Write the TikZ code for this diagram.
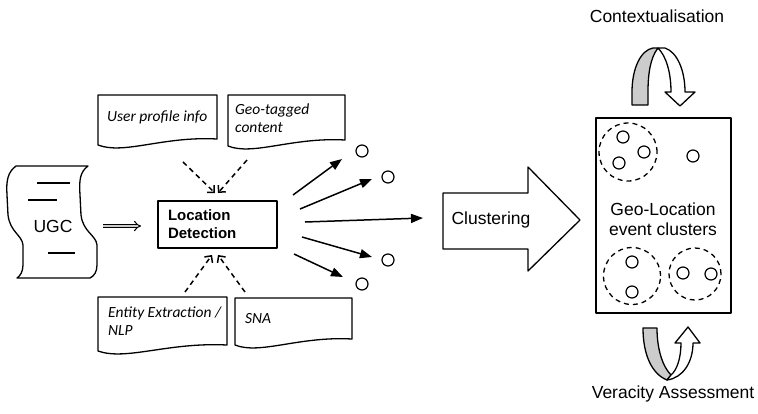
\documentclass[tikz,border=0pt]{standalone}
\usepackage{fontspec}
\setmainfont{Liberation Sans}
\newfontfamily\carl{Carlito}
\usetikzlibrary{arrows.meta}
\begin{document}
\begin{tikzpicture}[x=1pt,y=-1pt, line join=round,
  ln/.style={line width=1.3pt},
  dot/.style={circle, draw, line width=1.2pt, minimum size=12pt, inner sep=0pt},
  clus/.style={circle, draw, dash pattern=on 5pt off 4pt, line width=1.3pt, inner sep=0pt},
  dasharr/.style={line width=1.5pt, dash pattern=on 5pt off 4pt, -{Straight Barb[length=5pt,width=10pt,line width=1.5pt]}},
  solarr/.style={line width=1.5pt, -{Triangle[length=12pt,width=9pt]}},
  doctext/.style={font=\carl\itshape\fontsize{15.5}{18}\selectfont, anchor=west, align=left, inner sep=0pt},
  sans/.style={font=\fontsize{17.5}{21}\selectfont, inner sep=0pt, align=center},
  docbox/.style={ln, fill=white}
]
\useasboundingbox (0,0) rectangle (758,413);

% UGC scroll
\draw[ln, fill=white] (16,166) -- (88,166) .. controls (80,172) and (79,180) .. (80,195) -- (81,215) .. controls (83,232) and (96,235) .. (97,245) -- (97,265) .. controls (97,272) and (94,276) .. (90,278) -- (17,278) .. controls (20,276) and (23,272) .. (23,265) -- (23,245) .. controls (22,235) and (10,232) .. (8,215) -- (7,195) .. controls (6,180) and (8,172) .. (16,166) -- cycle;
\draw[ln] (37,183) -- (70,183);
\draw[ln] (28,200) -- (57,200);
\draw[ln] (48,253) -- (75,253);
\node[sans] (ugc) at (53,226) {UGC};
\coordinate (ugcout) at (103,226);
\coordinate (ldin) at (141,226);
\draw[double=gray!40, double distance=2.5pt, line width=1pt, -{Implies}] (ugcout) -- (ldin);

% Location detection
\node[draw, ln, minimum width=119pt, minimum height=47pt, align=left, text width=99pt, inner xsep=10pt, inner ysep=0pt, font=\bfseries\fontsize{15}{18}\selectfont] (ld) at (217.5,224.5) {Location\\Detection};

% documents
\draw[docbox] (98,95) -- (217,95) -- (217,139) .. controls (163,136) and (124,155) .. (98,145) -- cycle;
\node[doctext] (upi) at (107,117) {User profile info};
\draw[docbox] (228,95) -- (345,95) -- (345,140) .. controls (292,137) and (253,156) .. (228,146) -- cycle;
\node[doctext] (geot) at (235,118) {Geo-tagged\\content};
\draw[docbox] (98,297) -- (227,297) -- (227,345) .. controls (168,342) and (126,361) .. (98,351) -- cycle;
\node[doctext] (ent) at (108,321) {Entity Extraction /\\NLP};
\draw[docbox] (235,298) -- (352,298) -- (352,339) .. controls (299,336) and (260,355) .. (235,345) -- cycle;
\node[doctext] (sna) at (245,319) {SNA};

% dashed arrows
\coordinate (d1s) at (183,162); \coordinate (d1e) at (215,193);
\coordinate (d2s) at (247,160); \coordinate (d2e) at (218,193);
\coordinate (d3s) at (185,292); \coordinate (d3e) at (212,255);
\coordinate (d4s) at (245,292); \coordinate (d4e) at (218,255);
\draw[dasharr] (d1s) -- (d1e);
\draw[dasharr] (d2s) -- (d2e);
\draw[dasharr] (d3s) -- (d3e);
\draw[dasharr] (d4s) -- (d4e);

% small circles
\node[dot] (c1) at (362,151) {};
\node[dot] (c2) at (388,177) {};
\node[dot] (c4) at (388,260) {};
\node[dot] (c5) at (362,284) {};

\coordinate (a1s) at (293,195); \coordinate (a1e) at (342,159);
\coordinate (a2s) at (300,209); \coordinate (a2e) at (372,179);
\coordinate (a3s) at (305,222); \coordinate (a3e) at (423,218);
\coordinate (a4s) at (302,237); \coordinate (a4e) at (372,257);
\coordinate (a5s) at (294,254); \coordinate (a5e) at (343,277);
\draw[solarr] (a1s) -- (a1e);
\draw[solarr] (a2s) -- (a2e);
\draw[solarr] (a3s) -- (a3e);
\draw[solarr] (a4s) -- (a4e);
\draw[solarr] (a5s) -- (a5e);

% clustering arrow
\draw[ln, fill=white] (443,193) -- (528,193) -- (528,167) -- (580,220) -- (528,271) -- (528,249) -- (443,249) -- cycle;
\node[sans] (clu) at (491,220) {Clustering};

% geo-location box
\node[draw, ln, minimum width=135pt, minimum height=195pt] (geo) at (663.5,215.5) {};
\node[sans, font=\fontsize{17.5}{20}\selectfont] (geotext) at (663,219) {Geo-Location\\event clusters};
\node[clus, minimum size=58pt] (cl1) at (628,152) {};
\node[clus, minimum size=57pt] (cl2) at (632,276) {};
\node[clus, minimum size=52pt] (cl3) at (695,274) {};
\node[dot] (s1) at (623,137) {};
\node[dot] (s2) at (644,152) {};
\node[dot] (s3) at (619,163) {};
\node[dot] (s4) at (693,156) {};
\node[dot] (s5) at (632,262) {};
\node[dot] (s6) at (632,292) {};
\node[dot] (s7) at (683,273) {};
\node[dot] (s8) at (711,274) {};

% top curved arrow
\draw[ln, fill=gray!40] (632,105) -- (632,92) .. controls (632,68) and (641,50) .. (653,48) -- (658,48) .. controls (650,58) and (648,75) .. (648,92) -- (648,105) -- cycle;
\draw[ln, fill=white] (658,48) -- (665,48) .. controls (677,52) and (685,70) .. (685,92) -- (695,92) -- (680,106) -- (665,92) -- (671,92) .. controls (671,72) and (666,56) .. (658,48) -- cycle;
\node[sans] (ctx) at (657,16) {Contextualisation};

% bottom curved arrow
\draw[ln, fill=gray!40] (643,328) -- (657,328) .. controls (657,350) and (663,367) .. (671,375) -- (667,380) .. controls (652,374) and (643,355) .. (643,328) -- cycle;
\draw[ln, fill=white] (667,380) .. controls (683,378) and (693,362) .. (693,343) -- (700,343) -- (688,327) -- (675,343) -- (681,343) .. controls (681,358) and (677,370) .. (671,375) -- cycle;
\node[sans] (ver) at (673,394) {Veracity Assessment};
\end{tikzpicture}
\end{document}
